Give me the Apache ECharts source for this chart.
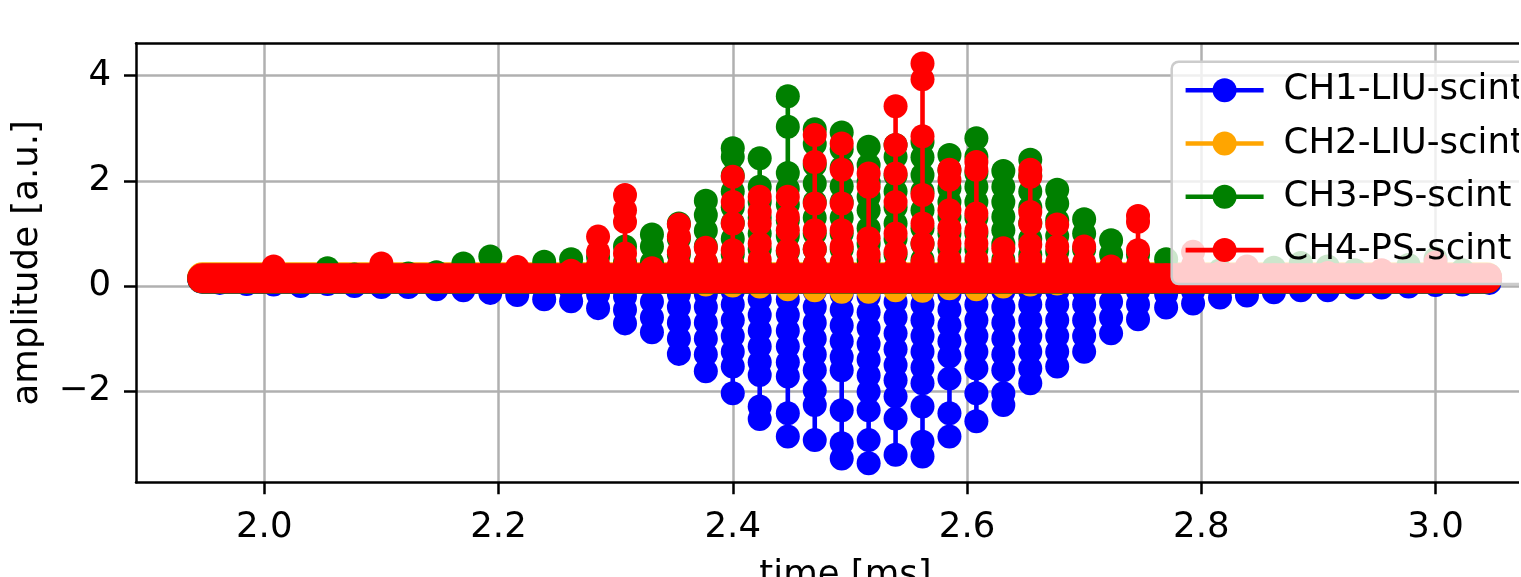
<!DOCTYPE html>
<html><head><meta charset="utf-8">
<script src="https://cdn.jsdelivr.net/npm/echarts@6/dist/echarts.min.js"></script>
<style>
html,body{margin:0;padding:0;overflow:hidden;background:#fff;width:1521px;height:577px}
#chart{position:absolute;left:0;top:0;width:1519px;height:577px}
</style>
</head><body><div id="chart"></div>
<script>
const seriesNames = ['CH1-LIU-scint','CH2-LIU-scint','CH3-PS-scint','CH4-PS-scint'];
const seriesColors = ['#0000ff','#ffa500','#008000','#ff0000'];
const xTicks = [2.0,2.2,2.4,2.6,2.8,3.0];
const yTicks = [-2,0,2,4];
const xRange = [1.8905, 3.102];
const yRange = [-3.732, 4.616];

// pulse times [ms]
const pulseTimes = [1.962,1.985,2.008,2.031,2.054,2.077,2.100,2.123,2.147,2.170,
  2.193,2.216,2.239,2.262,2.285,2.308,2.331,2.354,2.377,2.400,
  2.423,2.447,2.470,2.493,2.516,2.539,2.562,2.585,2.608,2.631,
  2.654,2.677,2.700,2.723,2.746,2.770,2.793,2.816,2.839,2.862,
  2.885,2.908,2.931,2.954,2.977,3.000,3.023,3.046];

// baseline (between pulses) extent and level per channel
const bandExtent = [1.947, 3.044];
const baseLevel = [0.14, 0.165, 0.14, 0.146];

// samples of each pulse, per channel
const ch1Pulses = [
  [0.06],[0.04],[0.03],[0.0],[0.04],[0.0],[-0.02],[-0.02],[-0.06],[-0.08],
  [-0.13],[-0.17,0.0],[-0.25,-0.05],[-0.29,-0.08],[-0.42,-0.15],
  [-0.71,-0.45,-0.2],[-0.88,-0.6,-0.3],[-1.29,-1.0,-0.7,-0.4,-0.15],[-1.62,-1.3,-1.0,-0.7,-0.4,-0.15],
  [-2.04,-1.53,-1.25,-0.95,-0.65,-0.35,-0.1],
  [-2.53,-2.29,-1.69,-1.45,-1.15,-0.85,-0.55,-0.25],
  [-2.86,-2.42,-1.72,-1.45,-1.15,-0.85,-0.55,-0.25],
  [-2.93,-2.26,-1.98,-1.6,-1.3,-1.0,-0.7,-0.4,-0.1],
  [-3.28,-2.99,-2.36,-1.6,-1.35,-1.05,-0.75,-0.45,-0.15],
  [-3.37,-2.93,-2.36,-2.01,-1.7,-1.4,-1.1,-0.8,-0.5,-0.2],
  [-3.21,-2.52,-2.10,-1.79,-1.5,-1.2,-0.9,-0.6,-0.3],
  [-3.24,-2.96,-2.29,-1.85,-1.55,-1.25,-0.95,-0.65,-0.35,-0.1],
  [-2.86,-2.42,-1.76,-1.34,-1.05,-0.75,-0.45,-0.15],
  [-2.57,-2.04,-1.57,-1.25,-0.95,-0.65,-0.35,-0.1],
  [-2.26,-2.04,-1.6,-1.3,-1.0,-0.7,-0.4,-0.1],
  [-1.85,-1.57,-1.25,-0.95,-0.65,-0.35,-0.1],
  [-1.53,-1.25,-0.95,-0.65,-0.35,-0.1],
  [-1.25,-0.95,-0.65,-0.35,-0.1],
  [-0.90,-0.6,-0.3],
  [-0.63,-0.35,-0.1],
  [-0.41,-0.15],
  [-0.33,-0.1],
  [-0.22],[-0.18],[-0.12],[-0.08],[-0.08],[-0.03],[-0.03],[-0.01],[0.02],[0.03],[0.06]
];
const ch2Pulses = [
  [0.14],[0.14],[0.14],[0.14],[0.14],[0.14],[0.14],[0.14],[0.14],[0.14],
  [0.14],[0.14],[0.14],[0.14],[0.14],[0.14],[0.14],[0.14],
  [0.03],[0.01],[-0.01],[-0.06],[-0.08],[-0.11],[-0.11],[-0.08],[-0.09],[-0.04],
  [-0.06],[-0.01],[0.03],[0.05],
  [0.14],[0.14],[0.14],[0.14],[0.14],[0.14],[0.14],[0.14],
  [0.14],[0.14],[0.14],[0.14],[0.14],[0.14],[0.14],[0.14]
];
const ch3Pulses = [
  [0.17],[0.18],[0.2],[0.17],[0.34],[0.22],[0.3],[0.24],[0.26],[0.43],
  [0.56,0.3],[0.25],[0.46,0.25],[0.51,0.25],[0.55,0.3],
  [0.75,0.45],[0.98,0.75,0.45],[1.19,0.9,0.6,0.35],[1.62,1.35,1.05,0.75,0.45],
  [2.62,2.46,2.1,1.8,1.5,1.2,0.9,0.6,0.3],
  [2.43,1.89,1.6,1.3,1.0,0.7,0.4],
  [3.61,3.03,2.15,1.85,1.55,1.25,0.95,0.65,0.35],
  [2.98,2.7,2.3,1.95,1.6,1.3,1.0,0.7,0.4],
  [2.92,2.6,2.25,1.9,1.6,1.3,1.0,0.7,0.4],
  [2.65,2.3,1.98,1.7,1.44,1.1,0.8,0.5],
  [2.68,2.46,2.1,1.8,1.5,1.19,0.9,0.6,0.3],
  [2.74,2.45,2.11,1.8,1.44,1.1,0.8,0.5],
  [2.49,2.2,1.86,1.6,1.32,1.0,0.7,0.4],
  [2.81,2.46,2.15,1.89,1.6,1.3,1.0,0.7,0.4],
  [2.19,1.89,1.6,1.32,1.06,0.8,0.5],
  [2.40,2.1,1.8,1.5,1.2,0.9,0.6,0.3],
  [1.83,1.57,1.25,0.95,0.65,0.35],
  [1.27,1.0,0.7,0.4],
  [0.87,0.6,0.35],
  [0.6,0.35],
  [0.51,0.25],
  [0.35],[0.3],[0.3],[0.35],[0.44],[0.37],[0.3],[0.25],[0.4],[0.52],[0.3],[0.2]
];
const ch4Pulses = [
  [0.15],[0.15],[0.37],[0.15],[0.15],[0.15],[0.43],[0.15],[0.16],[0.18],
  [0.18],[0.36],[0.18],[0.29],[0.94,0.65,0.4],
  [1.73,1.44,1.22,0.62,0.4],[0.34],[1.17,0.94,0.65,0.4],[0.73,0.45],
  [2.08,1.60,1.19,0.68,0.4],
  [1.70,1.41,1.19,0.81,0.5],
  [1.70,1.32,1.06,0.68,0.4],
  [2.87,2.36,1.57,1.06,0.7,0.4],
  [2.71,2.21,1.57,1.06,0.75,0.45],
  [2.14,1.89,0.91,0.6,0.35],
  [3.42,2.68,2.14,1.60,1.0,0.65,0.35],
  [4.23,3.93,2.85,1.73,1.19,0.81,0.45],
  [2.21,2.02,1.44,1.1,0.81,0.5],
  [2.36,2.21,1.38,1.05,0.81,0.5],
  [0.72,0.45],
  [2.21,2.08,1.41,1.19,0.79,0.5],
  [1.17,0.75,0.45],
  [0.75,0.45],
  [0.37],
  [1.33,1.22,0.68,0.4],
  [0.2],
  [0.65,0.4],
  [0.25],[0.37],[0.2],[0.2],[0.25],[0.2],[0.3],[0.2],[0.45],[0.2],[0.2]
];

const FONT = 'DejaVu Sans';
const FS = 35.5;
const pulses = [ch1Pulses, ch2Pulses, ch3Pulses, ch4Pulses];
const series = [];
pulses.forEach((p, c) => {
  const base = baseLevel[c];
  series.push({
    name: seriesNames[c] + ' baseline', type: 'line', z: 2 + c,
    data: [[bandExtent[0], base], [bandExtent[1], base]],
    symbol: 'none', showSymbol: false, silent: true, animation: false,
    lineStyle: { color: seriesColors[c], width: 30, cap: 'round' }
  });
  const data = [];
  p.forEach((vals, k) => {
    const t = pulseTimes[k];
    data.push([t, base]);
    vals.forEach(v => data.push([t, v]));
    data.push([t, base]);
  });
  series.push({
    name: seriesNames[c], type: 'line', z: 2 + c, data,
    symbol: 'circle', symbolSize: 24, showSymbol: true, showAllSymbol: true,
    silent: true, animation: false,
    itemStyle: { color: seriesColors[c], borderWidth: 0 },
    lineStyle: { color: seriesColors[c], width: 4.6 }
  });
});

const spine = { color: '#000', width: 2.5 };
const chart = echarts.init(document.getElementById('chart'), null, { renderer: 'canvas' });
chart.setOption({
  animation: false,
  backgroundColor: '#ffffff',
  grid: { left: 136, top: 43.3, right: -36, bottom: 94.7, show: false, outerBoundsMode: 'none',
          containLabel: false },
  legend: {
    data: seriesNames, orient: 'vertical', left: 1171.7, top: 61.7,
    padding: [10.5, 60, 16, 11.6], itemWidth: 78, itemHeight: 30, itemGap: 17.3,
    backgroundColor: 'rgba(255,255,255,0.8)', borderColor: '#cccccc', borderWidth: 2.5, borderRadius: 7,
    textStyle: { fontFamily: FONT, fontSize: FS, color: '#000', padding: [0, 0, 0, 15] },
    lineStyle: { width: 4.6 }, selectedMode: false, z: 10
  },
  xAxis: [{
    type: 'value', min: xRange[0], max: xRange[1], position: 'bottom',
    name: 'time [ms]', nameLocation: 'middle', nameGap: 75,
    nameTextStyle: { fontFamily: FONT, fontSize: FS, color: '#000' },
    axisLine: { show: true, onZero: false, lineStyle: spine },
    axisTick: { show: true, length: 12, customValues: xTicks, lineStyle: spine },
    axisLabel: { customValues: xTicks, formatter: v => Number(v).toFixed(1),
                 fontFamily: FONT, fontSize: FS, color: '#000', margin: 27 },
    splitLine: { show: true, lineStyle: { color: '#b0b0b0', width: 2.5 } }
  }, {
    type: 'value', min: xRange[0], max: xRange[1], position: 'top',
    axisLine: { show: true, onZero: false, lineStyle: spine },
    axisTick: { show: false }, axisLabel: { show: false }, splitLine: { show: false }
  }],
  yAxis: {
    type: 'value', min: yRange[0], max: yRange[1],
    name: 'amplitude [a.u.]', nameLocation: 'middle', nameGap: 90,
    nameTextStyle: { fontFamily: FONT, fontSize: FS, color: '#000' },
    axisLine: { show: true, onZero: false, lineStyle: spine },
    axisTick: { show: true, length: 12, customValues: yTicks, lineStyle: spine },
    axisLabel: { customValues: yTicks, formatter: v => (v < 0 ? '\u2212' + Math.abs(v) : String(v)),
                 fontFamily: FONT, fontSize: FS, color: '#000', margin: 25 },
    splitLine: { show: true, lineStyle: { color: '#b0b0b0', width: 2.5 } }
  },
  series
});
</script>
</body></html>
